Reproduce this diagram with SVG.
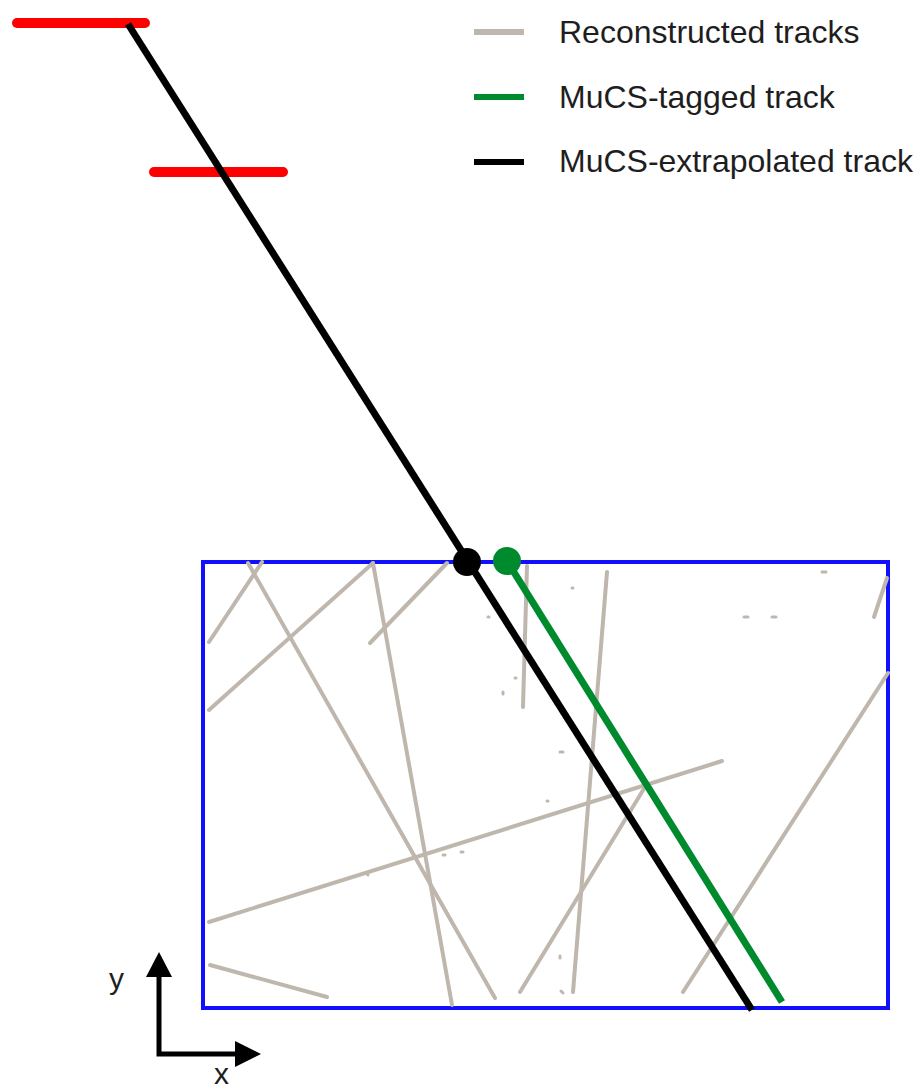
<svg xmlns="http://www.w3.org/2000/svg" width="922" height="1092" viewBox="0 0 922 1092">
  <style>
    .lbl{font-family:"Liberation Sans",Arial,sans-serif;font-size:32px;fill:#1e1e1e}
    .ax{font-family:"Liberation Sans",Arial,sans-serif;font-size:30px;fill:#1e1e1e}
    .trk{stroke:#bfb7ad;stroke-width:4;fill:none;stroke-linecap:round}
    .dot{stroke:#bfb7ad;stroke-width:3;stroke-linecap:round}
    .red{stroke:#ff0000;stroke-width:10;stroke-linecap:round}
    .blk{stroke:#000;stroke-width:7;fill:none}
    .grn{stroke:#008a2e;stroke-width:7;fill:none}
  </style>
  <rect width="922" height="1092" fill="#fff"/>

  <g id="legend">
    <line x1="474" y1="32" x2="524" y2="32" stroke="#bfb7ad" stroke-width="6"/>
    <text class="lbl" x="559" y="43">Reconstructed tracks</text>
    <line x1="474" y1="97" x2="524" y2="97" stroke="#008a2e" stroke-width="6"/>
    <text class="lbl" x="559" y="108">MuCS-tagged track</text>
    <line x1="474" y1="162" x2="524" y2="162" stroke="#000" stroke-width="6"/>
    <text class="lbl" x="559" y="172">MuCS-extrapolated track</text>
  </g>

  <g id="mucs-planes">
    <line class="red" x1="17" y1="23" x2="145" y2="23"/>
    <line class="red" x1="154" y1="172" x2="283" y2="172"/>
  </g>

  <g id="detector">
    <rect x="203" y="562" width="685" height="446" fill="none" stroke="#1010ff" stroke-width="4"/>
  </g>

  <g id="reco-tracks">
    <line class="trk" x1="209" y1="642" x2="262" y2="562"/>
    <line class="trk" x1="248" y1="563" x2="495" y2="998"/>
    <line class="trk" x1="209" y1="710" x2="373" y2="563"/>
    <line class="trk" x1="373" y1="563" x2="452" y2="1005"/>
    <line class="trk" x1="370" y1="643" x2="447" y2="563"/>
    <line class="trk" x1="527" y1="566" x2="523" y2="707"/>
    <line class="trk" x1="607" y1="572" x2="573" y2="992"/>
    <line class="trk" x1="209" y1="922" x2="722" y2="761"/>
    <line class="trk" x1="645" y1="787" x2="520" y2="992"/>
    <line class="trk" x1="888" y1="673" x2="683" y2="992"/>
    <line class="trk" x1="887" y1="578" x2="874" y2="617" stroke-width="5"/>
    <line class="trk" x1="210" y1="965" x2="327" y2="997"/>
    <line class="dot" x1="488" y1="617" x2="489" y2="617"/>
    <line class="dot" x1="515" y1="678" x2="516" y2="678"/>
    <line class="dot" x1="503" y1="692" x2="503" y2="694"/>
    <line class="dot" x1="572" y1="588" x2="573" y2="588"/>
    <line class="dot" x1="822" y1="572" x2="826" y2="572"/>
    <line class="dot" x1="744" y1="617" x2="748" y2="617"/>
    <line class="dot" x1="772" y1="617" x2="776" y2="617"/>
    <line class="dot" x1="547" y1="801" x2="548" y2="801"/>
    <line class="dot" x1="443" y1="855" x2="445" y2="855"/>
    <line class="dot" x1="461" y1="852" x2="463" y2="852"/>
    <line class="dot" x1="367" y1="874" x2="368" y2="875"/>
    <line class="dot" x1="560" y1="752" x2="563" y2="752"/>
    <line class="dot" x1="560" y1="956" x2="560" y2="958"/>
    <line class="dot" x1="561" y1="991" x2="563" y2="993"/>
  </g>

  <g id="extrapolated-track">
    <line class="blk" x1="128" y1="24" x2="752" y2="1010"/>
    <circle cx="467" cy="562" r="14" fill="#000"/>
  </g>

  <g id="tagged-track">
    <line class="grn" x1="507" y1="561" x2="782" y2="1002"/>
    <circle cx="507" cy="561" r="14" fill="#008a2e"/>
  </g>

  <g id="axes">
    <polyline points="159,976 159,1054 236,1054" fill="none" stroke="#000" stroke-width="5"/>
    <polygon points="159,952 146,977 172,977" fill="#000"/>
    <polygon points="261,1054 235,1041 235,1067" fill="#000"/>
    <text class="ax" x="109" y="989">y</text>
    <text class="ax" x="214" y="1084">x</text>
  </g>
</svg>
